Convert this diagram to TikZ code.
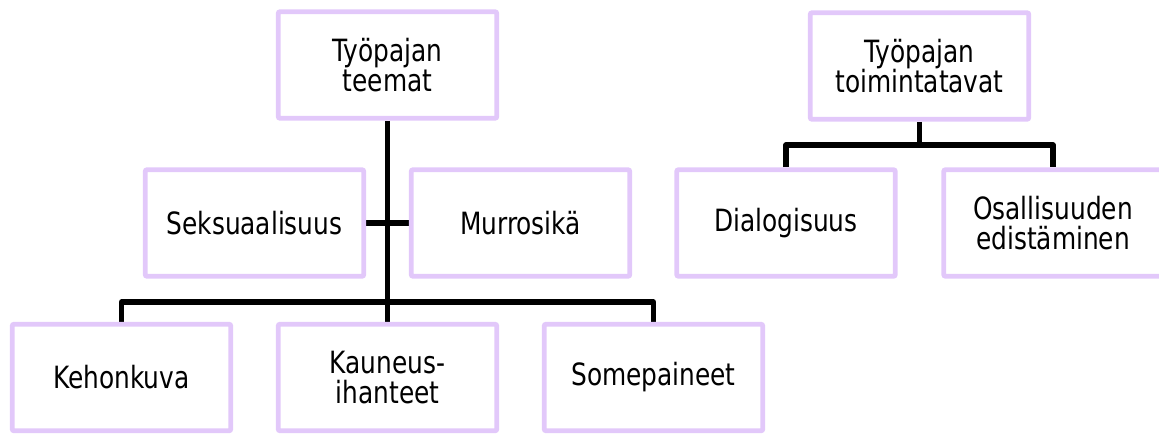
\documentclass[tikz,border=0pt]{standalone}
\usepackage{fontspec}
\setmainfont{DejaVu Sans Condensed}[FakeStretch=0.9]
\usepackage{tikz}
\usetikzlibrary{positioning, backgrounds}
\definecolor{themeborder}{RGB}{226,200,250}

\begin{document}
\begin{tikzpicture}[
    x=0.75pt, y=-0.75pt,
    topic/.style={draw=themeborder, line width=3.6pt, fill=white, minimum width=164pt, minimum height=80pt, rounded corners=1.5pt, font=\fontsize{23}{23}\selectfont, align=center, inner sep=0pt},
    link/.style={draw=black, line width=4pt, line join=round}
]
    \useasboundingbox (0,0) rectangle (1159,433);

    % Themes
    \node[topic] (teemat) at (387.5,65) {Työpajan\\teemat};
    \node[topic] (seks) at (254.5,223) {Seksuaalisuus};
    \node[topic] (murro) at (520.5,223) {Murrosikä};
    \node[topic] (keho) at (121.5,377.5) {Kehonkuva};
    \node[topic] (kaun) at (387.5,377.5) {Kauneus-\\ihanteet};
    \node[topic] (some) at (653.5,377.5) {Somepaineet};

    % Ways of working
    \node[topic] (toim) at (919.5,66) {Työpajan\\toimintatavat};
    \node[topic] (dialog) at (786,223) {Dialogisuus};
    \node[topic] (osal) at (1053,223) {Osallisuuden\\edistäminen};

    % Connections
    \coordinate (hubl) at (387.5,302);
    \coordinate (hubr) at (919.5,145);
    \begin{scope}[on background layer]
        \draw[link] (teemat) -- (kaun);
        \draw[link] (seks) -- (murro);
        \draw[link] (keho) |- (hubl) -| (some);
        \draw[link] (toim) -- (hubr);
        \draw[link] (dialog) |- (hubr) -| (osal);
    \end{scope}
\end{tikzpicture}
\end{document}
